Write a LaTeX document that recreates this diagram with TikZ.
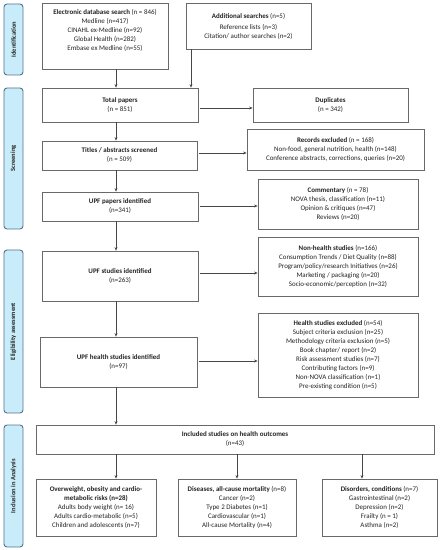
\documentclass[tikz,border=0pt]{standalone}
\usepackage{fontspec}
\setmainfont{Carlito}
\usetikzlibrary{arrows.meta}
\definecolor{boxgray}{RGB}{105,105,105}
\definecolor{txt}{RGB}{35,35,35}
\definecolor{sidefill}{RGB}{200,236,250}
\definecolor{sidedraw}{RGB}{85,115,140}
\definecolor{arrgray}{RGB}{70,70,70}
\begin{document}
\begin{tikzpicture}[x=1bp,y=-1bp,
  box/.style={draw=boxgray, line width=0.8bp, align=center, inner sep=1bp,
    text=txt, font=\fontsize{7}{9}\selectfont},
  side/.style={draw=sidedraw, fill=sidefill, line width=0.9bp, rounded corners=3bp,
    rotate=90, minimum height=19bp, inner sep=0pt, text=txt,
    font=\fontsize{6.5}{7}\selectfont\bfseries},
  arr/.style={draw=arrgray, line width=0.7bp, -{Stealth[length=3.5bp,width=3bp]}}]
\useasboundingbox (0,0) rectangle (442,550);
% side labels
\node[side, minimum width=71bp] (sid) at (13.5,39.5) {Identification};
\node[side, minimum width=141bp] (sscr) at (13.5,158.5) {Screening};
\node[side, minimum width=163bp] (seli) at (13.5,331.5) {Eligibility assessment};
\node[side, minimum width=122bp] (sinc) at (13.5,486) {Inclusion in Analysis};
% boxes
\node[box, minimum width=126bp, minimum height=66bp] (db) at (105,36)
  {\textbf{Electronic database search} (n = 846)\\Medline (n=417)\\CINAHL ex-Medline (n=92)\\Global Health (n=282)\\Embase ex Medline (n=55)\\[4pt]};
\node[box, minimum width=125bp, minimum height=46bp] (add) at (248.5,26)
  {\textbf{Additional searches} (n=5)\\[2pt]Reference lists (n=3)\\Citation/ author searches (n=2)};
\node[box, minimum width=156bp, minimum height=34bp] (total) at (120,105)
  {\textbf{Total papers}\\(n = 851)};
\node[box, minimum width=155bp, minimum height=34bp] (dup) at (330.5,105)
  {\textbf{Duplicates}\\(n = 342)};
\node[box, minimum width=155bp, minimum height=29bp] (titles) at (119.5,155.5)
  {\textbf{Titles / abstracts screened}\\(n = 509)};
\node[box, minimum width=177bp, minimum height=41bp] (rec) at (335.5,149.5)
  {\textbf{Records excluded} (n = 168)\\Non-food, general nutrition, health (n=148)\\Conference abstracts, corrections, queries (n=20)};
\node[box, minimum width=156bp, minimum height=29bp] (upfp) at (120,206.5)
  {\textbf{UPF papers identified}\\(n=341)};
\node[box, minimum width=160bp, minimum height=50bp] (comm) at (338,204)
  {\textbf{Commentary} (n = 78)\\NOVA thesis, classification (n=11)\\Opinion \& critiques (n=47)\\Reviews (n=20)};
\node[box, minimum width=156bp, minimum height=50bp] (upfs) at (120,276)
  {\textbf{UPF studies identified}\\(n=263)};
\node[box, minimum width=160bp, minimum height=59bp] (nonh) at (338,266.5)
  {\textbf{Non-health studies} (n=166)\\Consumption Trends / Diet Quality (n=88)\\Program/policy/research Initiatives (n=26)\\Marketing / packaging (n=20)\\Socio-economic/perception (n=32)};
\node[box, minimum width=157bp, minimum height=50bp] (upfh) at (118.5,362)
  {\textbf{UPF health studies identified}\\(n=97)};
\node[box, minimum width=160bp, minimum height=84bp] (hexc) at (338,355)
  {\textbf{Health studies excluded} (n=54)\\Subject criteria exclusion (n=25)\\Methodology criteria exclusion (n=5)\\Book chapter/ report (n=2)\\Risk assessment studies (n=7)\\Contributing factors (n=9)\\Non-NOVA classification (n=1)\\Pre-existing condition (n=5)};
\node[box, minimum width=398bp, minimum height=29bp] (incl) at (235,439.5)
  {\textbf{Included studies on health outcomes}\\(n=43)};
\node[box, minimum width=120bp, minimum height=57bp] (b1) at (96,507.5)
  {\textbf{Overweight, obesity and cardio-}\\\textbf{metabolic risks (n=28)}\\Adults body weight (n= 16)\\Adults cardio-metabolic (n=5)\\Children and adolescents (n=7)};
\node[box, minimum width=118bp, minimum height=57bp] (b2) at (237,507.5)
  {\textbf{Diseases, all-cause mortality} (n=8)\\Cancer (n=2)\\Type 2 Diabetes (n=1)\\Cardiovascular (n=1)\\All-cause Mortality (n=4)};
\node[box, minimum width=115bp, minimum height=57bp] (b3) at (379.5,507.5)
  {\textbf{Disorders, conditions} (n=7)\\Gastrointestinal (n=2)\\Depression (n=2)\\Frailty (n = 1)\\Asthma (n=2)};
% helper coordinates
\coordinate (colx) at (116,0);
\coordinate (addx) at (191,0);
\coordinate (c3) at (362,0);
\coordinate (r1) at (0,108);
\coordinate (r2) at (0,153);
\coordinate (r3) at (0,206);
\coordinate (r4) at (0,273);
\coordinate (r5) at (0,361);
% vertical arrows
\draw[arr] (db.south -| colx) -- (total.north -| colx);
\draw[arr] (add.south -| addx) -- (total.north -| addx);
\draw[arr] (total.south -| colx) -- (titles.north -| colx);
\draw[arr] (titles.south -| colx) -- (upfp.north -| colx);
\draw[arr] (upfp.south -| colx) -- (upfs.north -| colx);
\draw[arr] (upfs.south -| colx) -- (upfh.north -| colx);
\draw[arr] (upfh.south -| colx) -- (incl.north -| colx);
\draw[arr] (incl.south -| colx) -- (b1.north -| colx);
\draw[arr] (incl.south -| b2.north) -- (b2.north);
\draw[arr] (incl.south -| c3) -- (b3.north -| c3);
% horizontal arrows
\draw[arr] ([xshift=1.5bp]total.east |- r1) -- (dup.west |- r1);
\draw[arr] ([xshift=1.5bp]titles.east |- r2) -- (rec.west |- r2);
\draw[arr] ([xshift=1.5bp]upfp.east |- r3) -- (comm.west |- r3);
\draw[arr] ([xshift=1.5bp]upfs.east |- r4) -- (nonh.west |- r4);
\draw[arr] ([xshift=1.5bp]upfh.east |- r5) -- (hexc.west |- r5);
\end{tikzpicture}
\end{document}
